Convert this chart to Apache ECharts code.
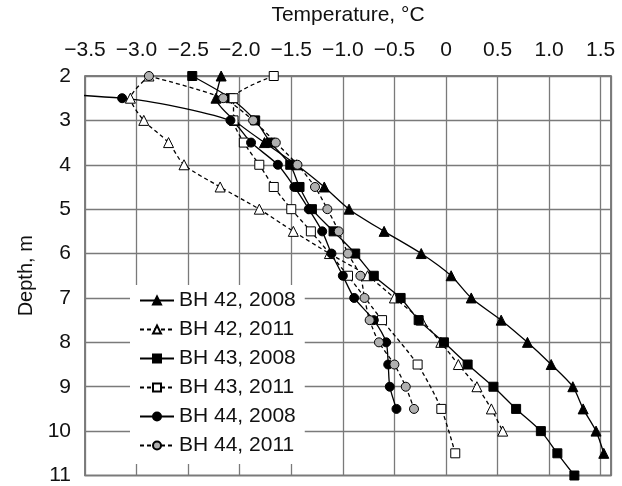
<!DOCTYPE html>
<html>
<head>
<meta charset="utf-8">
<script src="https://cdn.jsdelivr.net/npm/echarts@6/dist/echarts.min.js"></script>
<style>
  html, body { margin: 0; padding: 0; background: #fff; }
  #chart { width: 622px; height: 486px; }
</style>
</head>
<body>
<div id="chart"></div>
<script>
// depth (m) and temperature (°C) per borehole / year
const depthBH42_08 = [2, 2.5, 3, 3.5, 4, 4.5, 5, 5.5, 6, 6.5, 7, 7.5, 8, 8.5, 9, 9.5, 10, 10.5];
const tempBH42_08 = [-2.18, -2.23, -2.05, -1.76, -1.45, -1.18, -0.94, -0.60, -0.24, 0.05, 0.245, 0.535, 0.79, 1.02, 1.23, 1.33, 1.455, 1.53];

const depthBH42_11 = [2, 2.5, 3, 3.5, 4, 4.5, 5, 5.5, 6, 6.5, 7, 7.5, 8, 8.5, 9, 9.5, 10];
const tempBH42_11 = [-2.88, -3.06, -2.93, -2.69, -2.54, -2.19, -1.81, -1.48, -1.13, -0.76, -0.50, -0.24, -0.05, 0.12, 0.30, 0.44, 0.55];

const depthBH43_08 = [2, 2.5, 3, 3.5, 4, 4.5, 5, 5.5, 6, 6.5, 7, 7.5, 8, 8.5, 9, 9.5, 10, 10.5, 11];
const tempBH43_08 = [-2.46, -2.09, -1.85, -1.70, -1.51, -1.42, -1.30, -1.09, -0.88, -0.70, -0.44, -0.265, -0.02, 0.21, 0.46, 0.68, 0.92, 1.08, 1.245];

const depthBH43_11 = [2, 2.5, 3, 3.5, 4, 4.5, 5, 5.5, 6.5, 7.5, 8.5, 9.5, 10.5];
const tempBH43_11 = [-1.67, -2.06, -2.06, -1.96, -1.81, -1.67, -1.50, -1.31, -0.95, -0.62, -0.275, -0.045, 0.09];

const depthBH44_08 = [2, 2.5, 3, 3.5, 4, 4.5, 5, 5.5, 6, 6.5, 7, 7.5, 8, 8.5, 9, 9.5];
const tempBH44_08 = [-7.5, -3.14, -2.09, -1.89, -1.63, -1.47, -1.33, -1.20, -1.11, -1.00, -0.89, -0.70, -0.58, -0.56, -0.545, -0.48];

const depthBH44_11 = [2, 2.5, 3, 3.5, 4, 4.5, 5, 5.5, 6, 6.5, 7, 7.5, 8, 8.5, 9, 9.5];
const tempBH44_11 = [-2.88, -2.16, -1.87, -1.65, -1.44, -1.27, -1.15, -1.04, -0.95, -0.83, -0.79, -0.74, -0.65, -0.50, -0.39, -0.31];

const seriesNames = ['BH 42, 2008', 'BH 42, 2011', 'BH 43, 2008', 'BH 43, 2011', 'BH 44, 2008', 'BH 44, 2011'];

const FONT = "'Liberation Sans', Arial, Helvetica, sans-serif";

const pairs = (t, d) => t.map((v, i) => [v, d[i]]);

const makeSeries = (name, data, symbol, fill, dashed, size) => ({
    name: name,
    type: 'line',
    data: data,
    symbol: symbol,
    symbolSize: size,
    smooth: 0.25,
    clip: false,
    lineStyle: { color: '#000', width: 1.3, type: dashed ? [4, 3] : 'solid' },
    itemStyle: { color: fill, borderColor: '#000', borderWidth: 1 },
    emphasis: { disabled: true }
});

const chart = echarts.init(document.getElementById('chart'));

chart.setOption({
    animation: false,
    backgroundColor: '#fff',
    grid: {
        left: 85, right: 11, top: 71, bottom: 9,
        show: true, borderColor: '#555', borderWidth: 1.5, backgroundColor: 'transparent'
    },
    legend: {
        orient: 'vertical',
        left: 130, top: 285,
        padding: [5, 9, 8, 9],
        itemGap: 8,
        itemWidth: 34,
        itemHeight: 10,
        backgroundColor: '#fff',
        data: seriesNames,
        textStyle: { fontFamily: FONT, fontSize: 21, color: '#111' }
    },
    xAxis: {
        type: 'value',
        position: 'top',
        min: -3.5, max: 1.6, interval: 0.5,
        name: 'Temperature, °C',
        nameLocation: 'middle',
        nameGap: 50,
        nameTextStyle: { fontFamily: FONT, fontSize: 21, color: '#111' },
        axisLine: { show: false },
        axisTick: { show: false },
        axisLabel: {
            margin: 15,
            showMaxLabel: false,
            fontFamily: FONT, fontSize: 21, color: '#111',
            formatter: v => v === 0 ? '0' : (v < 0 ? '\u2212' : '') + Math.abs(v).toFixed(1)
        },
        splitLine: { lineStyle: { color: '#7a7a7a', width: 1.3 } }
    },
    yAxis: {
        type: 'value',
        inverse: true,
        min: 2, max: 11, interval: 1,
        name: 'Depth, m',
        nameLocation: 'middle',
        nameGap: 48,
        nameTextStyle: { fontFamily: FONT, fontSize: 20, color: '#111' },
        axisLine: { show: false },
        axisTick: { show: false },
        axisLabel: { margin: 14, fontFamily: FONT, fontSize: 21, color: '#111' },
        splitLine: { lineStyle: { color: '#7a7a7a', width: 1.3 } }
    },
    series: [
        makeSeries(seriesNames[0], pairs(tempBH42_08, depthBH42_08), 'triangle', '#000', false, 10),
        makeSeries(seriesNames[1], pairs(tempBH42_11, depthBH42_11), 'triangle', '#fff', true, 10),
        makeSeries(seriesNames[2], pairs(tempBH43_08, depthBH43_08), 'rect', '#000', false, 9),
        makeSeries(seriesNames[3], pairs(tempBH43_11, depthBH43_11), 'rect', '#fff', true, 9),
        makeSeries(seriesNames[4], pairs(tempBH44_08, depthBH44_08), 'circle', '#000', false, 9),
        makeSeries(seriesNames[5], pairs(tempBH44_11, depthBH44_11), 'circle', '#b0b0b0', true, 9)
    ]
});
</script>
</body>
</html>
